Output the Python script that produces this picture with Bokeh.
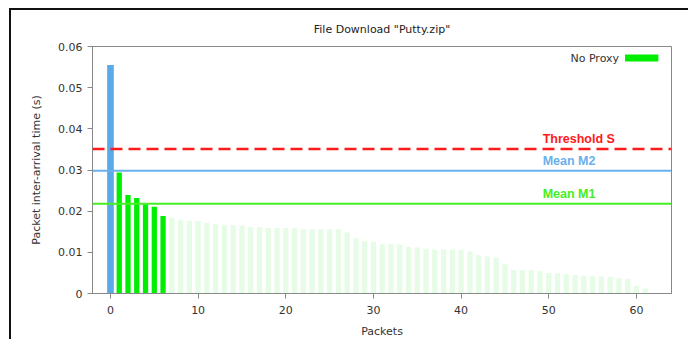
from bokeh.plotting import figure
from bokeh.models import Range1d, FixedTicker, CustomJSTickFormatter, Span, ColumnDataSource
from bokeh.core.properties import value
from bokeh.embed import file_html
from bokeh.resources import INLINE

# ---- data ----
title = 'File Download "Putty.zip"'
x_label = "Packets"
y_label = "Packet inter-arrival time (s)"

blue_x = [0]
blue_y = [0.0555]

green_x = [1, 2, 3, 4, 5, 6]
green_y = [0.0294, 0.0239, 0.0232, 0.0217, 0.0211, 0.0188]

light_x = list(range(7, 62))
light_y = [0.0184, 0.0179, 0.0177, 0.0176, 0.0172, 0.0168, 0.0166, 0.0166, 0.0165, 0.0161,
           0.0161, 0.0159, 0.0159, 0.0159, 0.0159, 0.0156, 0.0156, 0.0156, 0.0156, 0.0156,
           0.0148, 0.0134, 0.0127, 0.0125, 0.0120, 0.0120, 0.0119, 0.0113, 0.0112, 0.0108,
           0.0107, 0.0107, 0.0107, 0.0106, 0.0102, 0.0093, 0.0090, 0.0087, 0.0071, 0.0057,
           0.0057, 0.0057, 0.0054, 0.0050, 0.0049, 0.0047, 0.0045, 0.0043, 0.0042, 0.0041,
           0.0040, 0.0037, 0.0036, 0.0019, 0.0012]

threshold_s = 0.0351
mean_m2 = 0.0298
mean_m1 = 0.0218
ref_names = ["Threshold S", "Mean M2", "Mean M1"]
ref_values = [threshold_s, mean_m2, mean_m1]
legend_label = "No Proxy"

x_ticks = [0, 10, 20, 30, 40, 50, 60]
y_ticks = [0, 0.01, 0.02, 0.03, 0.04, 0.05, 0.06]

# ---- styles ----
BLUE = "#5aaae8"
GREEN = "#00ee00"
LIGHT = "#e6fce6"
RED = "#ff1a1a"
M1 = "#44ee22"
M2 = "#6ab0ec"
TXT = "#333333"
AX = "#888888"

p = figure(width=679, height=331, output_backend="svg", toolbar_location=None,
           x_range=Range1d(-2.05, 64), y_range=Range1d(0, 0.06),
           min_border_left=81, min_border_right=19, min_border_top=36, min_border_bottom=48)
p.styles = {"border-left": "2px solid #111", "border-top": "2px solid #111",
            "margin-left": "9px", "margin-top": "8px"}

p.title.text = title
p.title.align = "center"
p.title.text_font = "DejaVu Sans"
p.title.text_font_size = "11px"
p.title.text_font_style = "normal"
p.title.text_color = "#222222"
p.title.standoff = 21

p.grid.visible = False
p.outline_line_color = AX
p.outline_line_width = 1

for ax in (p.xaxis[0], p.yaxis[0]):
    ax.axis_line_color = AX
    ax.major_tick_line_color = AX
    ax.minor_tick_line_color = None
    ax.major_tick_in = 0
    ax.major_tick_out = 5
    ax.major_label_text_font = "DejaVu Sans"
    ax.major_label_text_font_size = "11px"
    ax.major_label_text_color = TXT
    ax.axis_label_text_font = "DejaVu Sans"
    ax.axis_label_text_font_size = "11px"
    ax.axis_label_text_font_style = "normal"
    ax.axis_label_text_color = TXT

p.xaxis.ticker = FixedTicker(ticks=x_ticks)
p.yaxis.ticker = FixedTicker(ticks=y_ticks)
p.yaxis.formatter = CustomJSTickFormatter(code="return tick === 0 ? '0' : tick.toFixed(2);")
p.xaxis.axis_label = x_label
p.yaxis.axis_label = y_label
p.xaxis.major_label_standoff = 7
p.xaxis.axis_label_standoff = 8
p.yaxis.major_label_standoff = 5
p.yaxis.axis_label_standoff = 12

# bars
p.vbar(x=light_x, top=light_y, width=0.6, fill_color=LIGHT, line_color=None)
p.vbar(x=green_x, top=green_y, width=0.6, fill_color=GREEN, line_color=None)
p.vbar(x=blue_x, top=blue_y, width=0.76, fill_color=BLUE, line_color=None)

# reference lines
p.add_layout(Span(location=threshold_s, dimension="width", line_color=RED,
                  line_width=2.5, line_dash="12 6"))
p.add_layout(Span(location=mean_m2, dimension="width", line_color=M2, line_width=2))
p.add_layout(Span(location=mean_m1, dimension="width", line_color=M1, line_width=2))

label_x = 49.3
src = ColumnDataSource(dict(x=[label_x] * 3, y=ref_values, t=ref_names,
                            c=[RED, M2, M1]))
p.text(x="x", y="y", text="t", source=src, text_color="c", text_align="left",
       text_baseline="bottom", y_offset=-3, text_font=value("Liberation Sans"),
       text_font_size="12.5px", text_font_style="bold")

# legend (label left of swatch, top right)
leg_x = p.x_range.end - 5.3
leg_y = p.y_range.end - 0.0028
p.text(x=[leg_x], y=[leg_y], text=[legend_label], text_align="right",
       text_baseline="middle", x_offset=-6, text_font=value("DejaVu Sans"),
       text_font_size="11px", text_color=TXT)
p.rect(x=[leg_x + 1.9], y=[leg_y], width=3.8, height=0.0017, fill_color=GREEN,
       line_color=None)

open("out.html", "w").write(file_html(p, INLINE))
